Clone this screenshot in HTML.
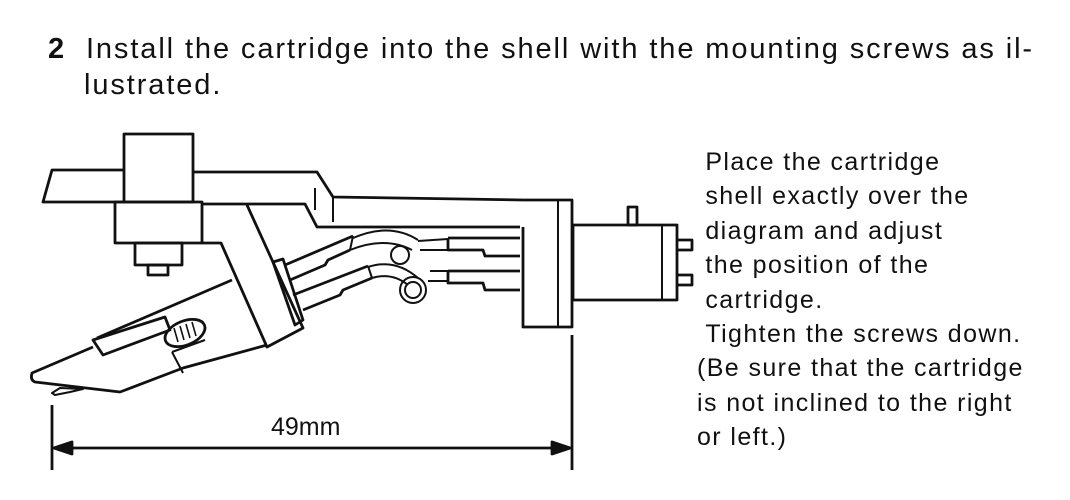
<!DOCTYPE html>
<html><head><meta charset="utf-8"><style>
html,body{margin:0;padding:0;background:#fff;}
body{width:1070px;height:500px;position:relative;overflow:hidden;font-family:"Liberation Sans",sans-serif;color:#111;}
.t{position:absolute;white-space:nowrap;}
</style></head><body>
<div class="t" style="left:48px;top:31px;font-size:29px;line-height:36px;letter-spacing:1.9px;"><b>2</b>&nbsp; Install the cartridge into the shell with the mounting screws as il-</div>
<div class="t" style="left:84px;top:67px;font-size:29px;line-height:36px;letter-spacing:1.9px;">lustrated.</div>
<div class="t" style="left:697px;top:145px;font-size:25px;line-height:34.4px;letter-spacing:1.4px;">
&nbsp;Place the cartridge<br>&nbsp;shell exactly over the<br>&nbsp;diagram and adjust<br>&nbsp;the position of the<br>&nbsp;cartridge.<br>&nbsp;Tighten the screws down.<br>(Be sure that the cartridge<br>is not inclined to the right<br>or left.)</div>
<svg width="1070" height="500" style="position:absolute;left:0;top:0" fill="none" stroke="#111" stroke-width="2.8" stroke-linejoin="round">
<path d="M124,170 L52,170 L43,202 L124,202"/>
<path d="M193,172 L317,172 L333,197 L523,200"/>
<rect x="124" y="134" width="69" height="68"/>
<rect x="115" y="202" width="87" height="41"/>
<rect x="135" y="243" width="47" height="22"/>
<rect x="148" y="265" width="20" height="10"/>
<path d="M202,204 L305,204 L317,227 L520,227"/>
<path d="M315,188 L315,210 M333,197 L333,222" stroke-width="2"/>
<path d="M523,200 L572,200 L572,327 L523,327 L523,227"/>
<path d="M558,200 L558,327" stroke-width="2"/>
<rect x="573" y="225" width="104" height="75"/>
<path d="M662,225 L662,300" stroke-width="2"/>
<rect x="628" y="207" width="9" height="18"/>
<path d="M677,240 L692,240 L692,250 L677,250 M677,275 L692,275 L692,285 L677,285"/>
<path d="M202,243 L221,243 L267,347 L303,328 L247,205"/>
<path d="M273,262 L283,259 L303,320 L295,325 Z"/>
<path d="M232,280 L97,338"/>
<path d="M93,347 L32,373 Q30,380 35,382 L120,392 L183,368 L267,345"/>
<path d="M93,340 L103,355 L170,330 L165,317 Z"/>
<ellipse cx="185" cy="333" rx="21" ry="12" transform="rotate(-22 185 333)"/>
<path d="M180,326 L184,340 M186,324 L190,338 M192,322 L196,336 M174,328 L178,342" stroke-width="1.6"/>
<path d="M172,352 L183,373 M172,352 L205,340" stroke-width="2"/>
<path d="M52,393 L60,388 L83,389 L70,392 L55,395 Z" stroke-width="2"/>
<path d="M285,265 L353,236 M290,280 L325,265 L328,260 L350,250"/>
<path d="M293,295 L368,266 M303,310 L340,295 L343,290 L372,278"/>
<path d="M353,236 L350,250 M368,266 L372,278" stroke-width="2"/>
<path d="M353,238 Q390,222 418,240 M350,250 Q385,236 412,250" stroke-width="2"/>
<circle cx="400" cy="255" r="9" stroke-width="2"/>
<path d="M368,267 Q395,258 418,278 M372,278 Q392,272 408,285" stroke-width="2"/>
<circle cx="413" cy="290" r="13" stroke-width="2"/>
<circle cx="413" cy="290" r="8" stroke-width="2"/>
<path d="M418,241 L448,239 M420,250 L448,250 M430,271 L448,271 M428,281 L448,281" stroke-width="2"/>
<path d="M448,238 L448,250 L483,250 L485,256 L520,256 M448,238 L520,238"/>
<path d="M448,271 L448,283 L483,283 L485,290 L520,290 M448,271 L520,271"/>
<path d="M52,405 L52,470 M572,335 L572,470 M54,448 L570,448"/>
<path d="M54,448 L72,442 L72,454 Z M570,448 L552,442 L552,454 Z" fill="#111"/>
</svg>
<div class="t" style="left:271px;top:413px;font-size:25px;">49mm</div>
</body></html>
